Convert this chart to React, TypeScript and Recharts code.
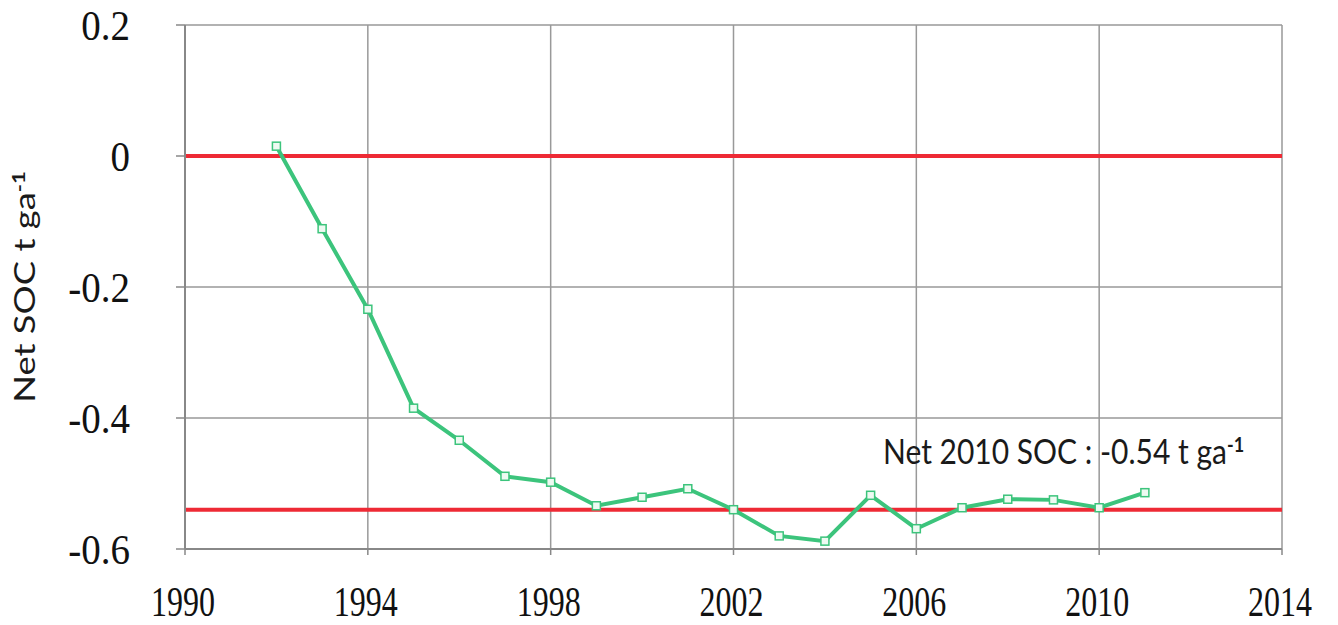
import { LineChart, Line, XAxis, YAxis, CartesianGrid, ReferenceLine, Label } from 'recharts';

// net soil organic carbon change per year
const years = [1992, 1993, 1994, 1995, 1996, 1997, 1998, 1999, 2000, 2001, 2002, 2003, 2004, 2005, 2006, 2007, 2008, 2009, 2010, 2011];
const soc = [0.015, -0.111, -0.234, -0.385, -0.434, -0.489, -0.498, -0.534, -0.521, -0.508, -0.54, -0.58, -0.588, -0.518, -0.569, -0.537, -0.524, -0.525, -0.537, -0.514];
const xTicks = [1990, 1994, 1998, 2002, 2006, 2010, 2014];
const yTicks = [-0.6, -0.4, -0.2, 0, 0.2];
const baseline = 0;
const net2010 = -0.54;

const data = years.map((year, i) => ({ year, soc: soc[i] }));

const GREEN = '#3cc47c';
const RED = '#ee2a35';
const SERIF = '"Liberation Serif", "Times New Roman", serif';
const SANS = 'Lato, "Open Sans", sans-serif';

const YTick = ({ x, y, payload }: any) => (
  <text transform={`translate(${x},${y}) scale(1,1.08)`} textAnchor="end" dy="0.35em" fontFamily={SERIF} fontSize={39} fill="#111">
    {String(payload.value)}
  </text>
);

const XTick = ({ x, y, payload }: any) => (
  <text transform={`translate(${x - 2},${y}) scale(1,1.3)`} textAnchor="middle" fontFamily={SERIF} fontSize={32} fill="#111">
    {payload.value}
  </text>
);

const SquareDot = ({ cx, cy }: any) => (
  <rect x={cx - 4} y={cy - 4} width={8} height={8} fill="#eefaf2" stroke={GREEN} strokeWidth={1.5} />
);

const YLabel = ({ viewBox }: any) => {
  const cx = viewBox.x - 30;
  const cy = viewBox.y + viewBox.height / 2;
  return (
    <text transform={`translate(${cx},${cy}) rotate(-90) scale(1.3,1)`} textAnchor="middle" fontFamily={SANS} fontSize={28} fill="#1a1a1a">
      Net SOC t ga<tspan dy={-10} fontSize={17} fontWeight="bold">-1</tspan>
    </text>
  );
};

const NoteLabel = ({ viewBox }: any) => (
  <text transform={`translate(${viewBox.x + 698},${viewBox.y - 46}) scale(1,1.15)`} fontFamily={SANS} fontSize={30} fill="#1a1a1a">
    Net 2010 SOC : -0.54 t ga<tspan dy={-10} fontSize={18} fontWeight="bold">-1</tspan>
  </text>
);

export default function App() {
  return (
    <div style={{ position: 'absolute', left: 0, top: 0, width: 1338, height: 625, background: '#fff' }}>
      <LineChart width={1338} height={625} data={data} margin={{ top: 25, right: 56, left: 65, bottom: 16 }}>
        <CartesianGrid stroke="#999" strokeWidth={1.5} />
        <XAxis
          dataKey="year"
          type="number"
          domain={[1990, 2014]}
          ticks={xTicks}
          height={60}
          axisLine={{ stroke: '#888', strokeWidth: 2 }}
          tickLine={{ stroke: '#888', strokeWidth: 1.5 }}
          tickSize={6}
          tickMargin={61}
          tick={<XTick />}
          interval={0}
        />
        <YAxis
          type="number"
          domain={[-0.6, 0.2]}
          ticks={yTicks}
          width={120}
          axisLine={{ stroke: '#888', strokeWidth: 2 }}
          tickLine={{ stroke: '#888', strokeWidth: 1.5 }}
          tickSize={9}
          tickMargin={46}
          tick={<YTick />}
          interval={0}
        >
          <Label content={YLabel} />
        </YAxis>
        <ReferenceLine y={baseline} stroke={RED} strokeWidth={4} />
        <ReferenceLine y={net2010} stroke={RED} strokeWidth={4} label={NoteLabel} />
        <Line
          type="linear"
          dataKey="soc"
          stroke={GREEN}
          strokeWidth={4}
          dot={<SquareDot />}
          activeDot={false}
          isAnimationActive={false}
        />
      </LineChart>
    </div>
  );
}
